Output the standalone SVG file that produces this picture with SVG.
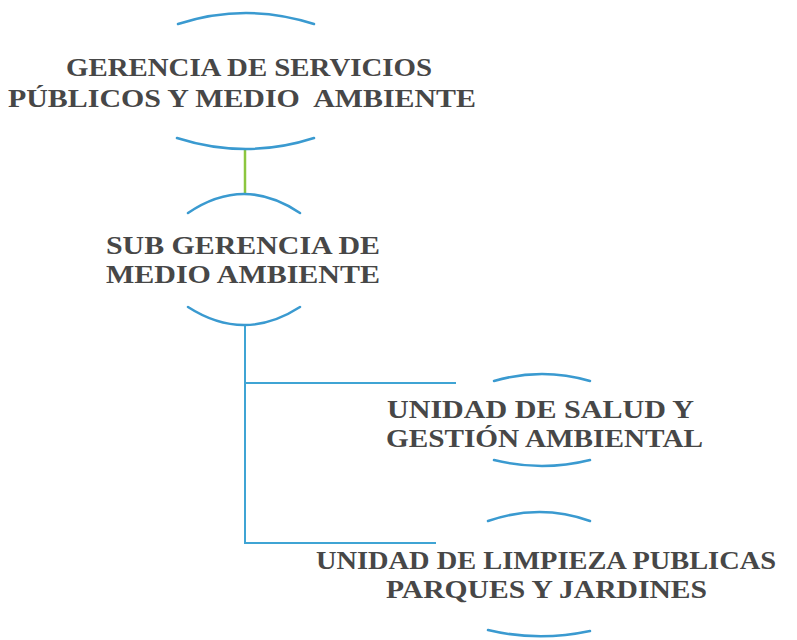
<svg xmlns="http://www.w3.org/2000/svg" width="797" height="640" viewBox="0 0 797 640">
<style>
.arc{fill:none;stroke:#3a9ad0;stroke-width:2.5;stroke-linecap:round}
.ln{fill:none;stroke:#3fa4d4;stroke-width:2}
.t{font-family:"Liberation Serif","Times New Roman",serif;font-weight:bold;font-size:26px;fill:#474747;white-space:pre}
</style>
<rect width="797" height="640" fill="#ffffff"/>
<g id="connectors">
<line x1="245" y1="149" x2="245" y2="193" stroke="#8cc63f" stroke-width="2.5"/>
<polyline class="ln" points="245,325 245,543 436,543"/>
<line class="ln" x1="245" y1="383" x2="456" y2="383"/>
</g>
<g id="n1">
<path class="arc" d="M178,24 Q246,2 314,24"/>
<text class="t" x="66" y="76" textLength="366" lengthAdjust="spacingAndGlyphs">GERENCIA DE SERVICIOS</text>
<text class="t" x="8" y="107" textLength="468" lengthAdjust="spacingAndGlyphs">PÚBLICOS Y MEDIO  AMBIENTE</text>
<path class="arc" d="M177,138 Q246,160 314,138"/>
</g>
<g id="n2">
<path class="arc" d="M188,213 Q244,175 300,213"/>
<text class="t" x="106" y="254" textLength="274" lengthAdjust="spacingAndGlyphs">SUB GERENCIA DE</text>
<text class="t" x="106" y="283" textLength="274" lengthAdjust="spacingAndGlyphs">MEDIO AMBIENTE</text>
<path class="arc" d="M188,307 Q244,343 300,307"/>
</g>
<g id="n3">
<path class="arc" d="M494,381 Q542,367 590,381"/>
<text class="t" x="387" y="418" textLength="307" lengthAdjust="spacingAndGlyphs">UNIDAD DE SALUD Y</text>
<text class="t" x="386" y="447" textLength="317" lengthAdjust="spacingAndGlyphs">GESTIÓN AMBIENTAL</text>
<path class="arc" d="M494,460 Q542,472 590,460"/>
</g>
<g id="n4">
<path class="arc" d="M488,521 Q540,503 590,521"/>
<text class="t" x="316" y="569" textLength="460" lengthAdjust="spacingAndGlyphs">UNIDAD DE LIMPIEZA PUBLICAS</text>
<text class="t" x="386" y="598" textLength="321" lengthAdjust="spacingAndGlyphs">PARQUES Y JARDINES</text>
<path class="arc" d="M488,630 Q538,642 590,631"/>
</g>
</svg>
